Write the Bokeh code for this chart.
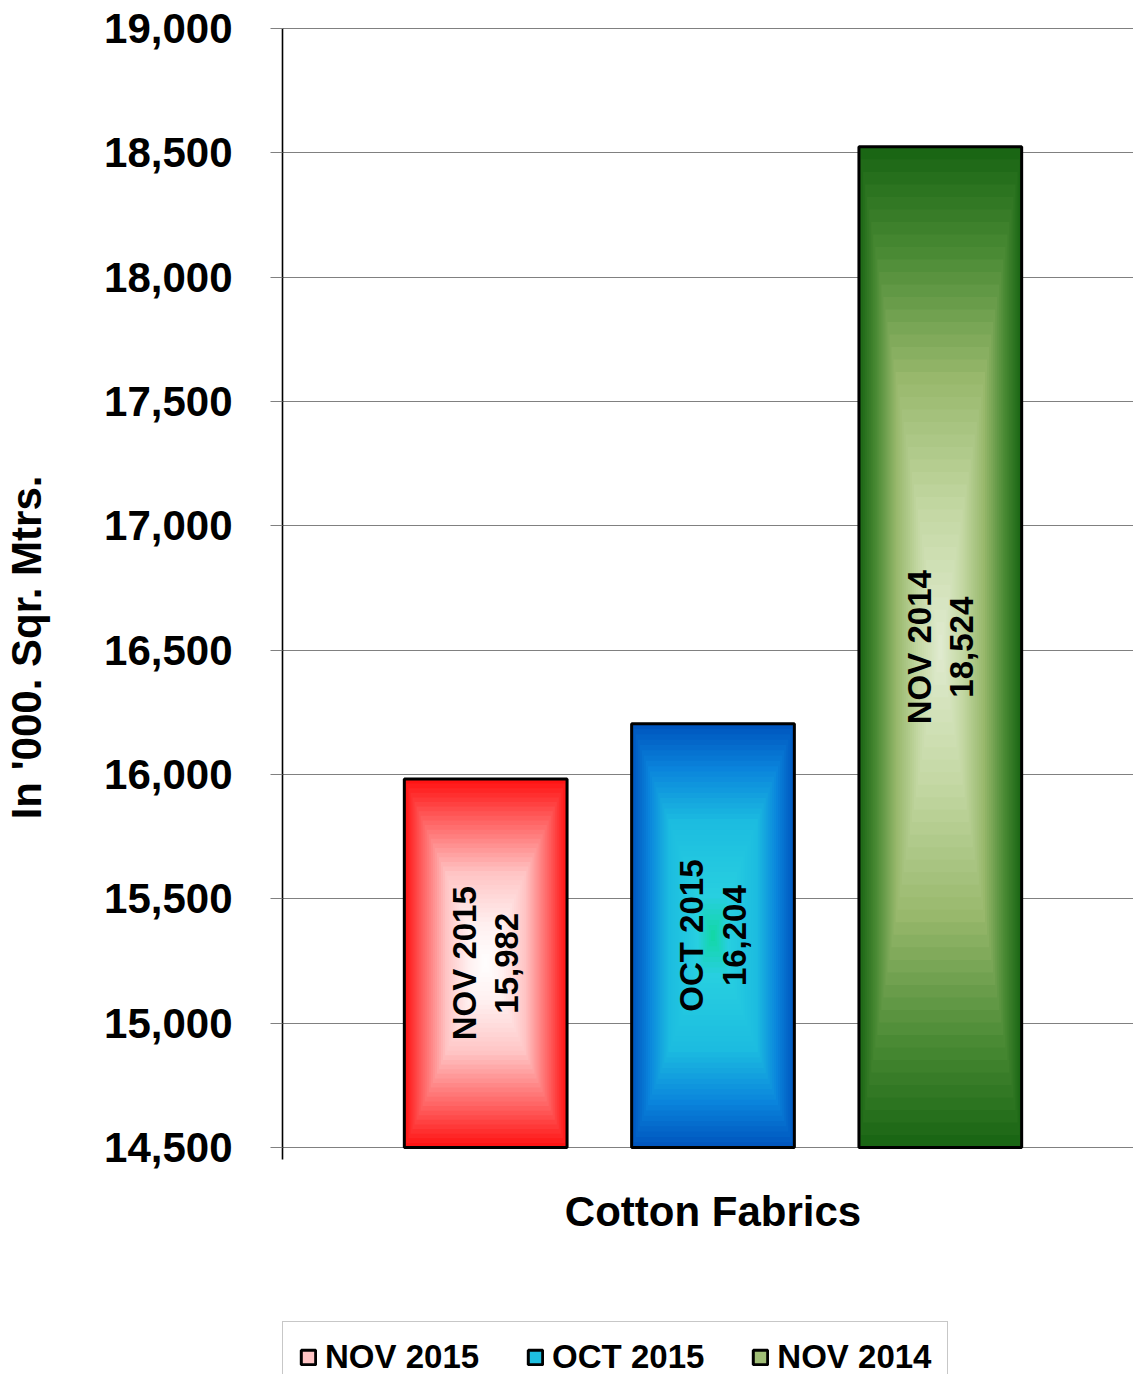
import math
from bokeh.plotting import figure
from bokeh.models import (Range1d, FixedTicker, NumeralTickFormatter, Legend,
                          LegendItem)
from bokeh.core.properties import value
from bokeh.embed import file_html
from bokeh.resources import INLINE

# ---------------- data ----------------
categories = ["Cotton Fabrics"]
series = ["NOV 2015", "OCT 2015", "NOV 2014"]
values = [15982, 16204, 18524]
value_labels = ["15,982", "16,204", "18,524"]
y_ticks = [14500, 15000, 15500, 16000, 16500, 17000, 17500, 18000, 18500, 19000]
y_axis_title = "In '000. Sqr. Mtrs."

# ---------------- style / layout ----------------
FONT = "Liberation Sans"
gradients = [
    [(0.0, "#ff1414"), (0.22, "#ff6464"), (0.5, "#ffc4c4"), (0.78, "#fff0f0"), (1.0, "#ffffff")],
    [(0.0, "#0056be"), (0.2, "#0a84dc"), (0.45, "#1cbce0"), (0.8, "#28cfe0"), (1.0, "#10d8a0")],
    [(0.0, "#1a6614"), (0.2, "#4a8a34"), (0.45, "#98b86c"), (0.72, "#c4d8a4"), (1.0, "#e2ecd2")],
]
N_LAYERS = 40
LEGEND_LAYER = 20

W, H = 1133, 1374
LEFT = 282
TOP_TICK_PX = 28               # pixel row of the top tick
PLOT_BOTTOM_PX = 1147          # pixel row of the value axis baseline
HEADROOM_PX = 3
TOP = TOP_TICK_PX - HEADROOM_PX
frame_w = W - LEFT
x_end = frame_w / 861.0
cat_center = 0.5
offsets = [-0.264, 0.0, 0.264]
bar_w = 0.189

y_lo, y_hi = y_ticks[0], y_ticks[-1]
units_per_px = (y_hi - y_lo) / (PLOT_BOTTOM_PX - TOP_TICK_PX)
y_start = y_lo - (H - PLOT_BOTTOM_PX) * units_per_px
y_end = y_hi + HEADROOM_PX * units_per_px


def hex2rgb(h):
    h = h.lstrip("#")
    return tuple(int(h[i:i + 2], 16) for i in (0, 2, 4))


def interp(stops, t):
    for (t0, c0), (t1, c1) in zip(stops[:-1], stops[1:]):
        if t0 <= t <= t1:
            f = 0 if t1 == t0 else (t - t0) / (t1 - t0)
            a, b = hex2rgb(c0), hex2rgb(c1)
            return "#%02x%02x%02x" % tuple(int(round(a[i] + (b[i] - a[i]) * f)) for i in range(3))
    return stops[-1][1]


p = figure(width=W, height=H, output_backend="svg", toolbar_location=None,
           x_range=Range1d(0, x_end), y_range=Range1d(y_start, y_end),
           min_border_left=LEFT, min_border_right=0,
           min_border_top=TOP, min_border_bottom=0)
p.outline_line_color = None
p.background_fill_color = "white"
p.border_fill_color = "white"
p.xaxis.visible = False

# grid
p.xgrid.grid_line_color = None
p.ygrid.ticker = FixedTicker(ticks=y_ticks)
p.ygrid.grid_line_color = "#808080"
p.ygrid.grid_line_width = 1.2

# y axis
ya = p.yaxis[0]
ya.ticker = FixedTicker(ticks=y_ticks)
ya.bounds = (y_lo - 12 * units_per_px, y_hi)
ya.formatter = NumeralTickFormatter(format="0,0")
ya.axis_line_color = "#000000"
ya.axis_line_width = 1.6
ya.major_tick_line_color = "#808080"
ya.major_tick_line_width = 1.2
ya.major_tick_out = 12
ya.major_tick_in = 0
ya.minor_tick_line_color = None
ya.major_label_text_font = FONT
ya.major_label_text_font_style = "bold"
ya.major_label_text_font_size = "42px"
ya.major_label_text_color = "black"
ya.major_label_standoff = 38
ya.axis_label = "\u00a0" * 9 + y_axis_title
ya.axis_label_text_font = FONT
ya.axis_label_text_font_style = "bold"
ya.axis_label_text_font_size = "42px"
ya.axis_label_text_color = "black"
ya.axis_label_standoff = 51

# category label under the bars
p.text(x=[cat_center], y=[y_lo - 64 * units_per_px], text=categories,
       text_align="center", text_baseline="middle",
       text_font=value(FONT), text_font_style="bold", text_font_size="42px",
       text_color="black")

base = y_lo
legend_items = []
for i, (name, v) in enumerate(zip(series, values)):
    xc = cat_center + offsets[i]
    half_h = (v - base) / 2.0
    mid = base + half_h
    layer_rs = []
    for k in range(N_LAYERS):
        t = k / N_LAYERS
        r = p.vbar(x=[xc], top=[mid + half_h * (1 - t)], bottom=[mid - half_h * (1 - t)],
                   width=bar_w * (1 - t), fill_color=interp(gradients[i], t),
                   line_color=None)
        layer_rs.append(r)
    outline = p.vbar(x=[xc], top=[v], bottom=[base], width=bar_w, fill_alpha=0,
                     line_color="black", line_width=3)
    legend_items.append(LegendItem(label=name, renderers=[layer_rs[LEGEND_LAYER], outline]))
    p.text(x=[xc], y=[mid], text=[name + "\n" + value_labels[i]],
           angle=math.pi / 2, text_align="center", text_baseline="middle",
           text_font=value(FONT), text_font_style="bold", text_font_size="33px",
           text_color="black", text_line_height=1.15)

legend = Legend(items=legend_items, orientation="horizontal", location=(0, -19))
legend.label_text_font = FONT
legend.label_text_font_style = "bold"
legend.label_text_font_size = "33px"
legend.label_text_color = "black"
legend.glyph_width = 18
legend.glyph_height = 18
legend.label_standoff = 8
legend.spacing = 47
legend.padding = 16
legend.margin = 0
legend.border_line_color = "#909090"
legend.border_line_width = 1.5
legend.background_fill_color = "white"
legend.background_fill_alpha = 1
p.add_layout(legend, "center")

open("out.html", "w").write(file_html(p, INLINE))
